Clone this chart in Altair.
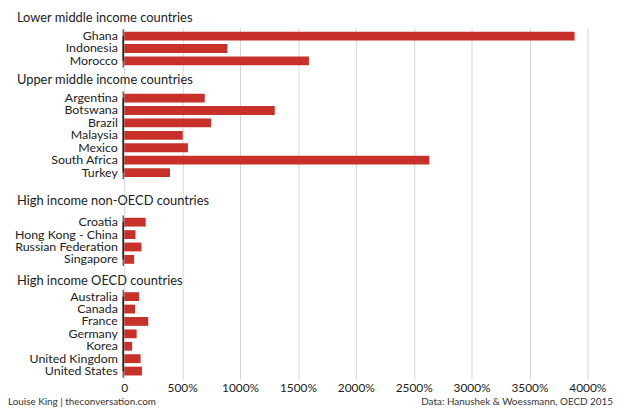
import altair as alt
import pandas as pd

# ---- data ----
groups = [
    "Lower middle income countries",
    "Upper middle income countries",
    "High income non-OECD countries",
    "High income OECD countries",
]
group_countries = [
    ["Ghana", "Indonesia", "Morocco"],
    ["Argentina", "Botswana", "Brazil", "Malaysia", "Mexico", "South Africa", "Turkey"],
    ["Croatia", "Hong Kong - China", "Russian Federation", "Singapore"],
    ["Australia", "Canada", "France", "Germany", "Korea", "United Kingdom", "United States"],
]
group_values = [
    [3890, 890, 1595],
    [695, 1300, 750, 505, 550, 2635, 395],
    [185, 97, 148, 85],
    [127, 93, 207, 107, 68, 141, 153],
]
tick_values = [0, 500, 1000, 1500, 2000, 2500, 3000, 3500, 4000]
footer_left = "Louise King | theconversation.com"
footer_right = "Data: Hanushek & Woessmann, OECD 2015"

# ---- layout (spacer rows between groups) ----
gap_rows = [2, 3, 2]
title_dy = [-18, -18, -21, -16]
BAR = "#c8302a"
INK = "#222222"
FONT = "Lato"

rows = []
domain = []
for gi, (g, cs, vs) in enumerate(zip(groups, group_countries, group_values)):
    for c, v in zip(cs, vs):
        rows.append({"group": g, "country": c, "value": v})
        domain.append(c)
    if gi < len(gap_rows):
        for k in range(gap_rows[gi]):
            domain.append(f"_sp{gi}_{k}")

df = pd.DataFrame(rows)
seg = pd.DataFrame({
    "group": groups,
    "first": [cs[0] for cs in group_countries],
    "last": [cs[-1] for cs in group_countries],
})

yscale = alt.Scale(domain=domain, paddingInner=0.29, paddingOuter=0.3)

bars = alt.Chart(df).mark_bar(color=BAR).encode(
    x=alt.X("value:Q",
            scale=alt.Scale(domain=[0, 4000], nice=False),
            axis=alt.Axis(values=tick_values, title=None, grid=True,
                          gridColor="#d6d6d0", gridWidth=1, domain=False,
                          ticks=False, labelPadding=3, labelFontSize=12,
                          labelFont=FONT, labelColor=INK, labelOverlap=False,
                          labelFlush=False,
                          labelExpr="datum.value == 0 ? '0' : datum.value + '%'")),
    y=alt.Y("country:N", scale=yscale, sort=domain,
            axis=alt.Axis(title=None, domain=False, ticks=False, grid=False,
                          labelPadding=7, labelFontSize=12.5, labelFont=FONT,
                          labelColor=INK, labelOverlap=False,
                          labelExpr="indexof(datum.value, '_sp') == 0 ? '' : datum.value")),
)

# group-wise y axis line, drawn just left of the bars
axis_rule = alt.Chart(seg).mark_rule(color=INK, strokeWidth=1.5).encode(
    x=alt.value(-1),
    y=alt.Y("first:N", scale=yscale, sort=domain),
    y2=alt.Y2("last:N"),
)
axis_ticks = alt.Chart(df).mark_tick(color=INK, thickness=1.5, size=13.5).encode(
    x=alt.value(-1),
    y=alt.Y("country:N", scale=yscale, sort=domain),
)

layers = [bars, axis_rule, axis_ticks]
for g, cs, dy in zip(groups, group_countries, title_dy):
    layers.append(
        alt.Chart(pd.DataFrame({"t": [g], "c": [cs[0]]})).mark_text(
            align="left", baseline="middle", dx=-108.5, dy=dy,
            fontSize=13, font=FONT, color=INK
        ).encode(x=alt.value(0), y=alt.Y("c:N", scale=yscale), text="t:N")
    )

layers.append(
    alt.Chart(pd.DataFrame({"t": [footer_left]})).mark_text(
        align="left", baseline="middle", fontSize=10, font=FONT, color="#333"
    ).encode(x=alt.value(-117.5), y=alt.value(378), text="t:N")
)
layers.append(
    alt.Chart(pd.DataFrame({"t": [footer_right]})).mark_text(
        align="right", baseline="middle", fontSize=10, font=FONT, color="#333"
    ).encode(x=alt.value(494), y=alt.value(378), text="t:N")
)

chart = alt.layer(*layers).properties(
    width=468,
    height=355,
    background="white",
    padding={"left": 117.5, "top": 18, "right": 30, "bottom": 30},
    autosize=alt.AutoSizeParams(type="none"),
).configure_view(stroke=None)

chart.save("out.html", embed_options={"renderer": "svg", "actions": False})
